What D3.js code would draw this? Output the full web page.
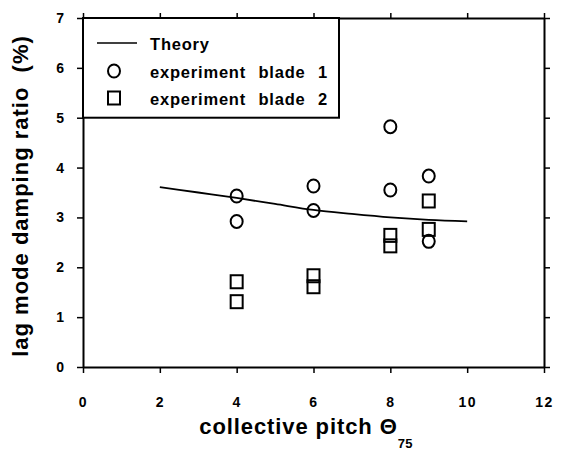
<!DOCTYPE html>
<html>
<head>
<meta charset="utf-8">
<script src="https://cdn.jsdelivr.net/npm/d3@7"></script>
<style>
  body { margin: 0; background: #fff; }
  svg { display: block; }
  text { font-family: Arial, "Liberation Sans", Helvetica, sans-serif; font-weight: bold; fill: #000; }
</style>
</head>
<body>
<div id="chart"></div>
<script>
// values
const xTicks = [0, 2, 4, 6, 8, 10, 12]
const yTicks = [0, 1, 2, 3, 4, 5, 6, 7]

const theoryPitch = [2, 3, 4, 5, 6, 7, 8, 9, 10]
const theoryDamping = [3.61, 3.50, 3.39, 3.27, 3.15, 3.07, 3.00, 2.95, 2.92]

const blade1Pitch = [4, 4, 6, 6, 8, 8, 9, 9]
const blade1Damping = [3.43, 2.92, 3.63, 3.14, 4.82, 3.55, 3.83, 2.52]

const blade2Pitch = [4, 4, 6, 6, 8, 8, 9, 9]
const blade2Damping = [1.71, 1.31, 1.83, 1.61, 2.64, 2.43, 3.33, 2.76]

const legendLabels = ["Theory", "experiment blade 1", "experiment blade 2"]

const width = 562, height = 452
const margin = {top: 18, right: 18, bottom: 85, left: 83}

const svg = d3.select("#chart").append("svg")
	.attr("width", width)
	.attr("height", height)

const x = d3.scaleLinear().domain([0, 12]).range([margin.left, width - margin.right])
const y = d3.scaleLinear().domain([0, 7]).range([height - margin.bottom, margin.top])

function styleAxis(g) {
	g.select(".domain").attr("stroke", "#000").attr("stroke-width", 2)
	g.selectAll(".tick line").attr("stroke", "#000").attr("stroke-width", 1.5)
}

// bottom
svg.append("g")
	.attr("transform", `translate(0,${y(0)})`)
	.call(d3.axisBottom(x).tickValues(xTicks).tickSize(6).tickSizeOuter(0).tickPadding(24).tickFormat(d3.format("d")))
	.call(styleAxis)
	.call(g => g.selectAll(".tick text").attr("font-size", 14).attr("letter-spacing", 1.5))

// top
svg.append("g")
	.attr("transform", `translate(0,${y(7)})`)
	.call(d3.axisTop(x).tickValues(xTicks).tickSize(5).tickSizeOuter(0).tickFormat(""))
	.call(styleAxis)

// left
svg.append("g")
	.attr("transform", `translate(${x(0)},0)`)
	.call(d3.axisLeft(y).tickValues(yTicks).tickSize(6).tickSizeOuter(0).tickPadding(13).tickFormat(d3.format("d")))
	.call(styleAxis)
	.call(g => g.selectAll(".tick text").attr("font-size", 14))

// right
svg.append("g")
	.attr("transform", `translate(${x(12)},0)`)
	.call(d3.axisRight(y).tickValues(yTicks).tickSize(6).tickSizeOuter(0).tickFormat(""))
	.call(styleAxis)

// axis titles
const xTitle = svg.append("text")
	.attr("x", 306)
	.attr("y", 434)
	.attr("text-anchor", "middle")
	.attr("font-size", 22)
	.attr("letter-spacing", 0.9)
xTitle.append("tspan").text("collective pitch Θ")
xTitle.append("tspan").attr("font-size", 13).attr("letter-spacing", 0.3).attr("dy", 14).text("75")

svg.append("text")
	.attr("transform", `translate(28,196) rotate(-90)`)
	.attr("text-anchor", "middle")
	.attr("font-size", 22)
	.attr("letter-spacing", 1.0)
	.attr("xml:space", "preserve")
	.text("lag mode damping ratio  (%)")

// theory curve
const line = d3.line()
	.x(d => x(d[0]))
	.y(d => y(d[1]))
	.curve(d3.curveMonotoneX)

svg.append("path")
	.datum(d3.zip(theoryPitch, theoryDamping))
	.attr("d", line)
	.attr("fill", "none")
	.attr("stroke", "#000")
	.attr("stroke-width", 1.8)

// experiment blade 1: circles
svg.append("g").selectAll("ellipse")
	.data(d3.zip(blade1Pitch, blade1Damping))
	.enter()
	.append("ellipse")
		.attr("cx", d => x(d[0]))
		.attr("cy", d => y(d[1]))
		.attr("rx", 6)
		.attr("ry", 6.5)
		.attr("fill", "none")
		.attr("stroke", "#000")
		.attr("stroke-width", 2)

// experiment blade 2: squares
svg.append("g").selectAll("rect")
	.data(d3.zip(blade2Pitch, blade2Damping))
	.enter()
	.append("rect")
		.attr("x", d => x(d[0]) - 6)
		.attr("y", d => y(d[1]) - 6.5)
		.attr("width", 12)
		.attr("height", 13)
		.attr("fill", "none")
		.attr("stroke", "#000")
		.attr("stroke-width", 2)

// legend
const legend = svg.append("g")
legend.append("rect")
	.attr("x", x(0))
	.attr("y", y(7))
	.attr("width", 256)
	.attr("height", y(5) - y(7))
	.attr("fill", "#fff")
	.attr("stroke", "#000")
	.attr("stroke-width", 2)

const rowY = [43, 71, 98]
legend.append("line")
	.attr("x1", 97).attr("x2", 137)
	.attr("y1", rowY[0]).attr("y2", rowY[0])
	.attr("stroke", "#000").attr("stroke-width", 1.5)
legend.append("ellipse")
	.attr("cx", 114).attr("cy", rowY[1])
	.attr("rx", 6).attr("ry", 6.5)
	.attr("fill", "none").attr("stroke", "#000").attr("stroke-width", 2)
legend.append("rect")
	.attr("x", 108).attr("y", rowY[2] - 6.5)
	.attr("width", 12).attr("height", 13)
	.attr("fill", "none").attr("stroke", "#000").attr("stroke-width", 2)

legend.selectAll(".lab")
	.data(legendLabels)
	.enter()
	.append("text")
		.attr("class", "lab")
		.attr("x", 150)
		.attr("y", (d, i) => rowY[i] + 7)
		.attr("font-size", 16.5)
		.attr("letter-spacing", 0.8)
		.attr("word-spacing", 7)
		.text(d => d)
</script>
</body>
</html>
